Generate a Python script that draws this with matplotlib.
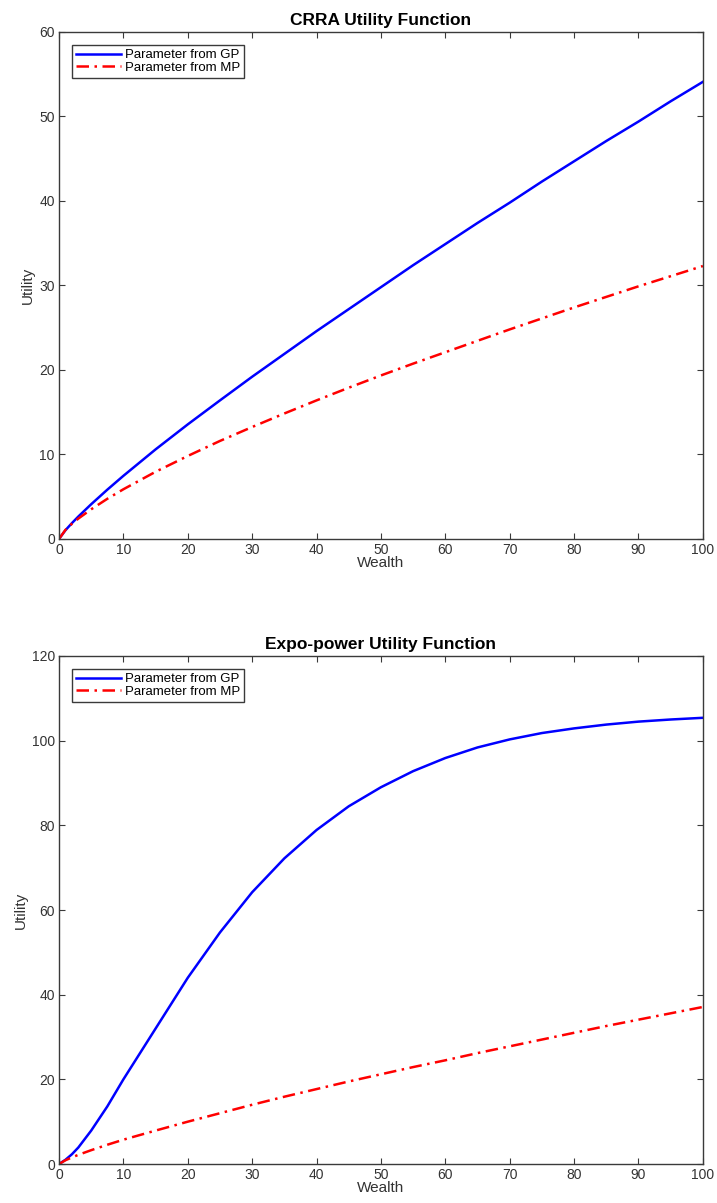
import matplotlib.pyplot as plt

plt.rcParams['font.family'] = ['Liberation Sans', 'DejaVu Sans']

# Wealth grid (x) shared by both panels
wealth = [0, 1, 2, 3, 5, 7.5, 10, 15, 20, 25, 30, 35, 40, 45, 50, 55, 60, 65, 70, 75,
          80, 85, 90, 95, 100]

# CRRA utility
crra_gp = [0, 1.03, 1.87, 2.65, 4.11, 5.83, 7.47, 10.6, 13.56, 16.4, 19.2, 21.9, 24.6,
           27.2, 29.8, 32.4, 34.9, 37.4, 39.8, 42.3, 44.7, 47.1, 49.4, 51.8, 54.1]
crra_mp = [0, 1.07, 1.79, 2.41, 3.51, 4.75, 5.88, 7.95, 9.82, 11.6, 13.25, 14.85, 16.4,
           17.9, 19.35, 20.75, 22.1, 23.45, 24.8, 26.1, 27.4, 28.65, 29.9, 31.1, 32.3]

# Expo-power utility
expo_gp = [0, 1.0, 2.3, 3.9, 7.9, 13.6, 20.0, 32.0, 44.0, 54.7, 64.2, 72.2, 78.9,
           84.5, 89.0, 92.8, 95.9, 98.4, 100.3, 101.8, 102.9, 103.8, 104.5, 105.0, 105.4]
expo_mp = [0, 0.89, 1.56, 2.17, 3.27, 4.55, 5.75, 7.9, 10.0, 12.0, 14.0, 15.9, 17.7,
           19.5, 21.2, 22.9, 24.5, 26.2, 27.8, 29.4, 31.0, 32.6, 34.1, 35.6, 37.1]

labels = ['Parameter from GP', 'Parameter from MP']
titles = ['CRRA Utility Function', 'Expo-power Utility Function']

EDGE = '#3a3a3a'


def draw_panel(ax, gp, mp, title, ymax, ystep):
    ax.plot(wealth, gp, color='#0000ff', lw=1.8, label=labels[0])
    ax.plot(wealth, mp, color='#ff0000', lw=1.8, linestyle=(0, (5, 2.2, 1, 2.2)),
            label=labels[1])
    ax.set_xlim(0, 100)
    ax.set_ylim(0, ymax)
    ax.set_xticks(range(0, 101, 10))
    ax.set_yticks(range(0, ymax + 1, ystep))
    ax.tick_params(direction='in', length=4.5, top=True, right=True,
                   labelsize=10, colors=EDGE, labelcolor='#333333', pad=3)
    for s in ax.spines.values():
        s.set_color(EDGE)
        s.set_linewidth(1.0)
    ax.set_title(title, fontsize=12.5, fontweight='bold', pad=5)
    ax.set_xlabel('Wealth', fontsize=11, color='#333333', labelpad=-1)
    ax.set_ylabel('Utility', fontsize=11, color='#333333', labelpad=3)
    leg = ax.legend(loc='upper left', fontsize=9.5, labelspacing=0.02, handlelength=3.4,
                    handletextpad=0.3, borderpad=0.3, borderaxespad=1.0,
                    fancybox=False, framealpha=1, edgecolor=EDGE)
    leg.get_frame().set_linewidth(1.0)


fig = plt.figure(figsize=(7.17, 12.03), dpi=100)
ax1 = fig.add_axes([0.0823, 0.552, 0.898, 0.4214])
ax2 = fig.add_axes([0.0823, 0.0324, 0.898, 0.4223])

draw_panel(ax1, crra_gp, crra_mp, titles[0], 60, 10)
draw_panel(ax2, expo_gp, expo_mp, titles[1], 120, 20)

fig.savefig('out.png', dpi=100)
